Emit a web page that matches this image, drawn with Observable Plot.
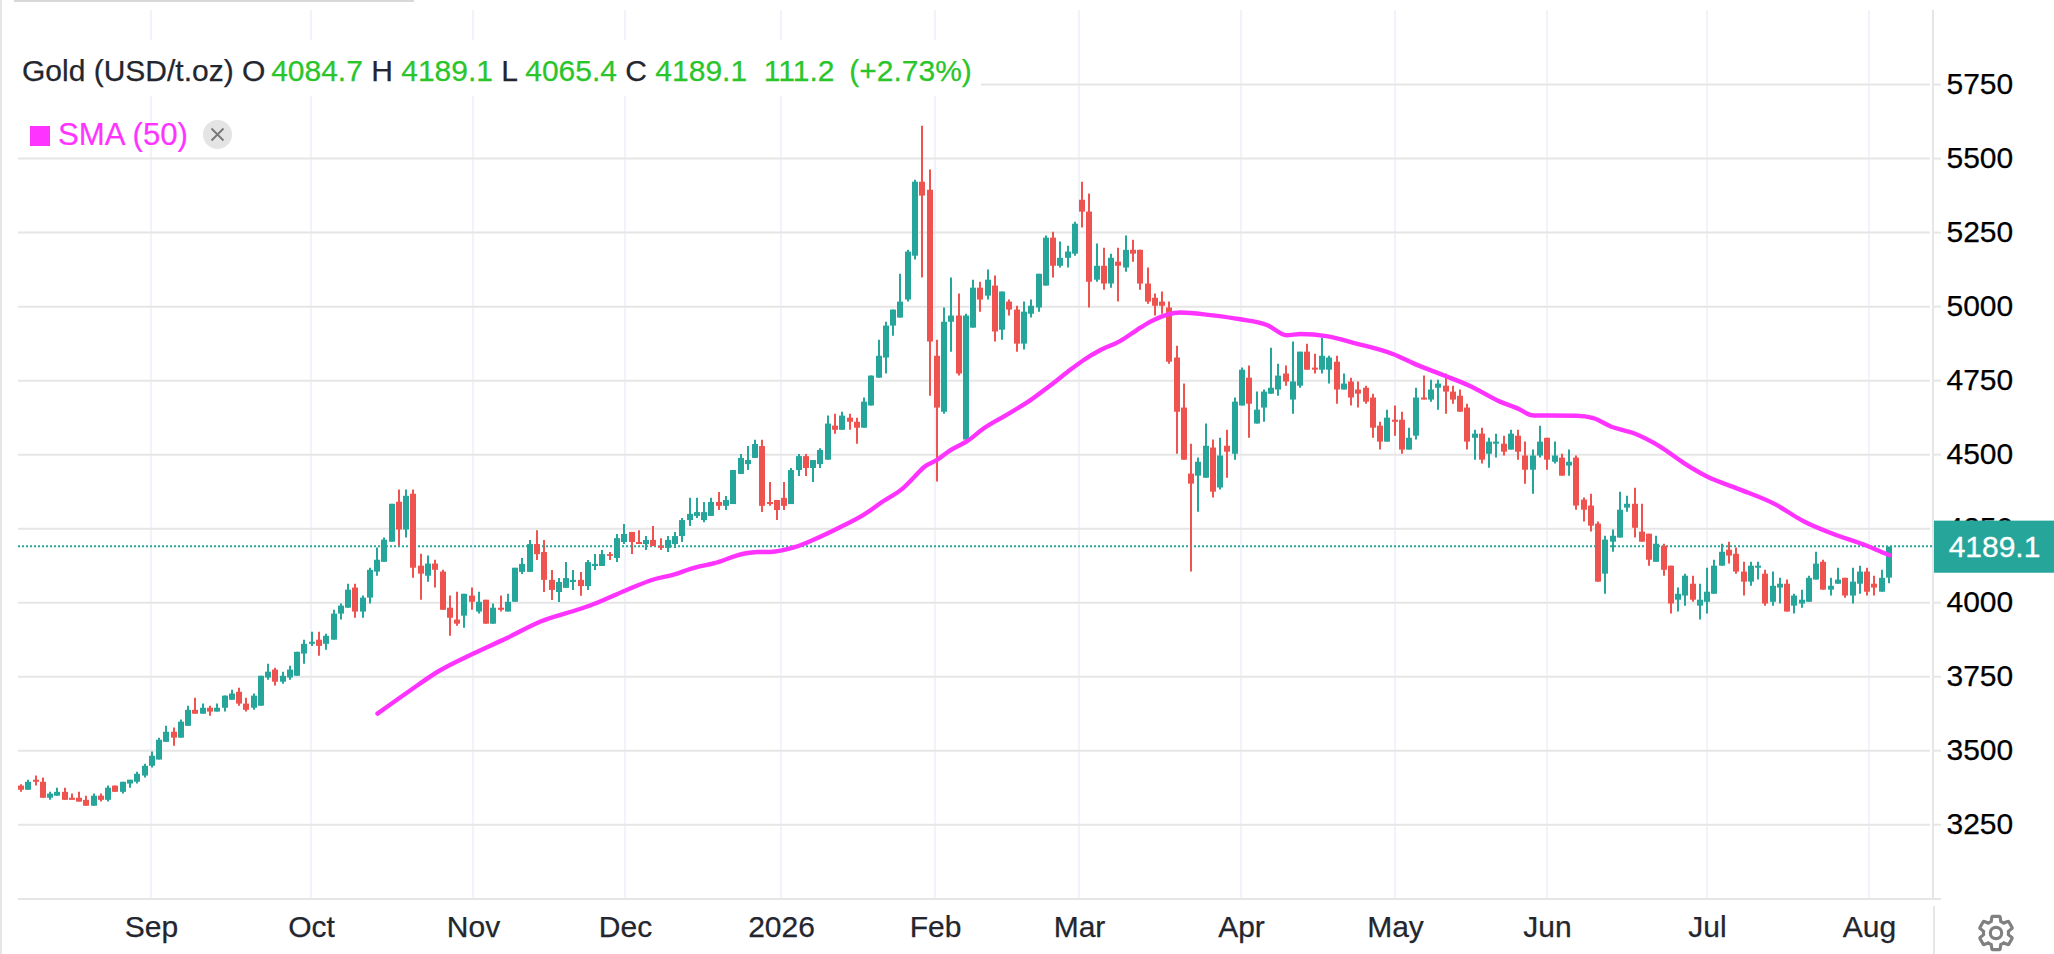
<!DOCTYPE html>
<html><head><meta charset="utf-8">
<script src="https://cdn.jsdelivr.net/npm/d3@7"></script>
<script src="https://cdn.jsdelivr.net/npm/@observablehq/plot@0.6"></script>
<style>
html,body{margin:0;padding:0;background:#fff;overflow:hidden}
#wrap{position:relative;width:2054px;height:954px;font-family:"Liberation Sans",Arial,sans-serif}
#head{position:absolute;left:18px;top:40px;width:963px;height:56px;background:#fff;font-size:30px;line-height:62px;color:#23262e;white-space:pre;box-sizing:border-box;padding-left:4px;-webkit-text-stroke:.25px}
#head b{font-weight:400;color:#2ac52a}
#head b.first{margin-left:-2.6px}
#head b.pct{margin-left:6.5px}
#sma{position:absolute;left:30px;top:116px;height:40px;line-height:38px;font-size:31.2px;color:#ff33ff;white-space:pre;-webkit-text-stroke:.2px}
#sma i{display:inline-block;width:20px;height:20px;background:#ff33ff;margin-right:8px;vertical-align:-1px;-webkit-text-stroke:0}
#x{position:absolute;left:203px;top:120px;width:29px;height:29px;border-radius:50%;background:#e4e4e4}
#gear{position:absolute;left:1976px;top:913px;width:40px;height:40px}
#bar{position:absolute;left:14px;top:0;width:400px;height:2px;background:#d8d8d8}
#edge{position:absolute;left:0;top:0;width:2px;height:954px;background:#e6e6ea}
#vsep{position:absolute;left:1933px;top:906px;width:2px;height:48px;background:#e6e6e6}
</style></head><body>
<div id="wrap">
<div id="chart"></div>
<div id="bar"></div><div id="edge"></div><div id="vsep"></div>
<div id="head">Gold (USD/t.oz) O <b class="first">4084.7</b> H <b>4189.1</b> L <b>4065.4</b> C <b>4189.1</b>  <b>111.2</b><b class="pct"> (+2.73%)</b></div>
<div id="sma"><i></i>SMA (50)</div>
<div id="x"><svg width="29" height="29" viewBox="0 0 29 29"><path d="M8.5 8.5L20.5 20.5M20.5 8.5L8.5 20.5" stroke="#777" stroke-width="1.8" fill="none"/></svg></div>
<svg id="gear" viewBox="0 0 24 24"><path fill="none" stroke="#808080" stroke-width="1.9" d="M19.43 12.98c.04-.32.07-.64.07-.98s-.03-.66-.07-.98l2.11-1.65c.19-.15.24-.42.12-.64l-2-3.46c-.12-.22-.39-.3-.61-.22l-2.49 1c-.52-.4-1.08-.73-1.69-.98l-.38-2.65C14.46 2.18 14.25 2 14 2h-4c-.25 0-.46.18-.49.42l-.38 2.65c-.61.25-1.17.59-1.69.98l-2.49-1c-.23-.09-.49 0-.61.22l-2 3.46c-.13.22-.07.49.12.64l2.11 1.65c-.04.32-.07.65-.07.98s.03.66.07.98l-2.11 1.65c-.19.15-.24.42-.12.64l2 3.46c.12.22.39.3.61.22l2.49-1c.52.4 1.08.73 1.69.98l.38 2.65c.03.24.24.42.49.42h4c.25 0 .46-.18.49-.42l.38-2.65c.61-.25 1.17-.59 1.69-.98l2.49 1c.23.09.49 0 .61-.22l2-3.46c.12-.22.07-.49-.12-.64l-2.11-1.65z"/><circle cx="12" cy="12" r="3.4" fill="none" stroke="#808080" stroke-width="1.9"/></svg>
</div>
<script>
const opens = [3382,3368,3402,3395,3341,3348,3361,3341,3341,3334,
3314,3348,3334,3382,3361,3389,3395,3416,3449,3470,
3530,3564,3544,3584,3638,3625,3645,3632,3645,3672,
3699,3659,3645,3652,3747,3774,3733,3747,3753,3828,
3861,3875,3861,3875,3963,3983,4051,3970,4017,4105,
4138,4206,4341,4247,4368,4125,4091,4132,4105,3983,
3943,3956,4024,3970,4010,3929,3983,3970,4003,4104,
4104,4198,4171,4077,4036,4050,4070,4077,4056,4124,
4124,4164,4151,4205,4239,4205,4198,4212,4191,4185,
4198,4225,4279,4293,4279,4293,4340,4327,4333,4435,
4468,4489,4529,4340,4347,4354,4333,4448,4495,4455,
4468,4483,4598,4584,4625,4611,4591,4666,4760,4828,
4936,4963,5024,5172,5422,5395,4834,4645,4949,4970,
4551,4929,5064,5037,5071,4922,5017,4990,4875,4976,
4997,5071,5233,5138,5165,5179,5361,5321,5091,5138,
5078,5152,5132,5192,5192,5078,5030,5017,4997,4828,
4659,4436,4429,4422,4524,4389,4530,4503,4666,4760,
4605,4659,4706,4720,4774,4686,4733,4848,4794,4787,
4787,4814,4720,4747,4720,4726,4693,4598,4544,4618,
4618,4517,4564,4693,4686,4726,4733,4713,4699,4659,
4557,4571,4503,4537,4537,4517,4564,4497,4449,4497,
4557,4476,4490,4463,4490,4348,4328,4267,4098,4206,
4220,4321,4334,4240,4233,4138,4192,4125,4010,4024,
4064,3990,4003,4030,4125,4179,4165,4105,4071,4118,
4098,4003,4051,4064,3990,3997,4003,4078,4138,4044,
4064,4084,4024,4064,4105,4064,4037,4084.7];
const highs = [3387,3402,3416,3409,3361,3375,3375,3355,3361,3348,
3355,3355,3382,3382,3395,3402,3429,3456,3497,3544,
3584,3578,3605,3652,3679,3659,3652,3659,3686,3706,
3713,3679,3693,3753,3794,3780,3767,3787,3834,3875,
3902,3902,3895,3976,3997,4064,4064,4024,4118,4186,
4220,4334,4382,4382,4382,4165,4159,4145,4111,4024,
4037,4030,4051,4037,4010,3997,4024,4030,4118,4151,
4212,4245,4212,4110,4083,4137,4110,4104,4144,4164,
4178,4171,4232,4266,4239,4245,4225,4259,4218,4225,
4239,4286,4354,4354,4340,4354,4374,4360,4448,4502,
4529,4550,4550,4408,4347,4408,4455,4502,4502,4482,
4522,4632,4638,4645,4638,4625,4693,4767,4888,4949,
4990,5111,5192,5429,5611,5463,4888,4997,5098,5044,
4976,5091,5084,5125,5105,5051,5024,5003,5017,5024,
5111,5240,5253,5220,5206,5287,5422,5382,5213,5199,
5179,5199,5240,5226,5192,5132,5044,5051,5017,4868,
4740,4537,4490,4605,4551,4557,4584,4693,4794,4801,
4713,4720,4861,4807,4801,4882,4848,4875,4841,4895,
4834,4834,4774,4760,4747,4733,4706,4611,4652,4666,
4645,4591,4726,4767,4753,4753,4774,4733,4720,4672,
4584,4591,4557,4571,4564,4584,4584,4544,4517,4598,
4557,4544,4503,4517,4497,4355,4368,4274,4226,4247,
4375,4361,4388,4334,4233,4226,4199,4125,4051,4098,
4091,4064,4118,4145,4199,4206,4186,4138,4138,4138,
4111,4105,4084,4078,4030,4044,4091,4172,4145,4084,
4118,4084,4118,4125,4118,4091,4111,4189.1];
const lows = [3361,3368,3382,3341,3334,3348,3334,3334,3328,3314,
3314,3328,3328,3361,3355,3375,3389,3409,3443,3470,
3530,3517,3544,3584,3625,3625,3618,3632,3632,3672,
3652,3632,3638,3652,3740,3720,3726,3740,3753,3794,
3854,3821,3841,3875,3943,3983,3949,3949,3997,4091,
4138,4206,4192,4220,4084,4010,4071,4051,3976,3888,
3922,3915,3976,3963,3929,3929,3970,3970,4003,4097,
4104,4144,4036,4009,4002,4050,4043,4023,4043,4110,
4124,4144,4137,4198,4164,4198,4178,4191,4178,4171,
4185,4205,4259,4286,4272,4293,4313,4313,4333,4435,
4448,4489,4306,4327,4279,4313,4333,4428,4428,4408,
4455,4483,4571,4584,4584,4537,4591,4666,4760,4774,
4902,4963,5017,5159,5098,4699,4409,4638,4848,4767,
4551,4929,4983,5024,4882,4888,4970,4848,4855,4963,
4983,5071,5098,5132,5132,5172,5267,4997,5084,5057,
5064,5017,5118,5152,5057,5010,4970,4976,4807,4503,
4483,4105,4307,4422,4355,4382,4422,4483,4666,4557,
4605,4611,4706,4699,4733,4638,4726,4787,4774,4774,
4740,4672,4720,4666,4659,4672,4557,4517,4544,4564,
4503,4517,4551,4686,4679,4652,4638,4672,4645,4517,
4483,4470,4456,4490,4497,4517,4483,4402,4368,4490,
4449,4470,4429,4429,4314,4274,4240,4071,4030,4172,
4220,4307,4220,4206,4125,4138,4091,3963,3970,3990,
4003,3943,3963,4030,4125,4132,4098,4024,4057,4078,
3990,3990,3997,3970,3963,3983,4003,4078,4044,4024,
4064,4017,3997,4030,4024,4024,4037,4065.4];
const closes = [3368,3395,3395,3341,3355,3361,3334,3334,3328,3314,
3348,3334,3375,3361,3395,3402,3422,3449,3483,3537,
3564,3544,3598,3638,3625,3645,3632,3645,3686,3693,
3659,3638,3686,3753,3767,3733,3753,3774,3834,3861,
3868,3854,3888,3963,3990,4044,3970,4017,4111,4145,
4213,4334,4247,4361,4118,4098,4132,4111,3976,3949,
3929,4030,4003,4003,3929,3983,3976,4003,4118,4131,
4198,4164,4077,4043,4070,4083,4077,4056,4137,4131,
4164,4158,4218,4232,4205,4198,4212,4191,4185,4212,
4225,4279,4300,4306,4306,4340,4327,4347,4448,4489,
4482,4536,4327,4333,4313,4327,4448,4495,4455,4482,
4516,4605,4584,4632,4611,4591,4679,4767,4834,4936,
4990,5017,5186,5422,5375,4882,4659,4949,4970,4774,
4970,5064,5024,5091,4916,5051,4990,4875,4983,5003,
5111,5233,5138,5165,5186,5280,5321,5084,5138,5078,
5165,5138,5192,5179,5078,5017,5003,5003,4814,4645,
4483,4402,4476,4530,4375,4497,4510,4679,4787,4672,
4652,4713,4726,4767,4747,4747,4848,4787,4787,4834,
4828,4720,4740,4693,4706,4679,4591,4544,4625,4611,
4517,4557,4693,4686,4720,4740,4713,4686,4645,4544,
4571,4483,4544,4544,4510,4571,4510,4449,4497,4544,
4483,4497,4429,4476,4328,4314,4260,4071,4213,4226,
4314,4334,4253,4206,4145,4199,4111,3997,4030,4091,
4010,4010,4037,4125,4172,4159,4105,4071,4125,4125,
3997,4057,4064,3970,4024,4010,4084,4132,4044,4057,
4078,4024,4071,4105,4037,4051,4084,4189.1];

const smaBar = [49,53.5,57.4,62.2,66.8,71.4,76.9,78.8,83.1,87,89.8,92.1,95.3,99.4,101.2,103,106.3,109,112.7,115.9,118.6,121.2,122.8,124.2,126,127.8,130.1,132.4,135.6,138.8,141.6,143.9,146.2,148.5,151.2,153.5,155.3,157.6,159.5,163.6,167.7,171.4,174.1,176,179.6,183.7,188.8,191.5,195.7,199.3,203.5,205.8,208,210.4,214,216.1,218.7,221.9,225.5,228.7,232,236.1,241.1,245.3,248.5,254,256.6,257];
const smaValue = [3627,3706,3770,3830,3883,3938,3981,3998,4043,4080,4097,4116,4135,4167,4173,4173,4189,4214,4257,4298,4345,4387,4427,4461,4485,4517,4548,4590,4638,4686,4736,4781,4823,4855,4886,4924,4951,4974,4982,4973,4959,4939,4905,4909,4902,4877,4841,4810,4770,4733,4680,4658,4634,4634,4633,4626,4596,4573,4528,4474,4427,4387,4337,4275,4241,4193,4166,4162];

const monthBar = [17.9,39.9,62.2,83.1,104.6,125.8,145.6,167.9,189.1,210,232,254.3];
const monthLabel = ["Sep","Oct","Nov","Dec","2026","Feb","Mar","Apr","May","Jun","Jul","Aug"];
const priceTicks = [3250,3500,3750,4000,4250,4500,4750,5000,5250,5500,5750];
const lastPrice = 4189.1;

const UP="#26a69a", DOWN="#ef5350", GRIDH="#e6e6e6", GRIDV="#f0f3fa";
const XMIN=-0.413, XAXIS=263.07, YMIN=2999;
const candles = opens.map((o,i)=>({i,open:o,high:highs[i],low:lows[i],close:closes[i],color:closes[i]>=o?UP:DOWN}));
const sma = smaBar.map((b,i)=>({b,v:smaValue[i]}));

const chart = Plot.plot({
  width:2054,height:954,marginLeft:18,marginRight:121,marginTop:10,marginBottom:55,
  style:{fontFamily:'"Liberation Sans",Arial,sans-serif',fontSize:"30px",background:"#fff",overflow:"visible"},
  x:{domain:[XMIN,XAXIS],round:true},
  y:{domain:[YMIN,6002]},
  marks:[
    Plot.ruleX(monthBar,{x:d=>d,stroke:GRIDV,strokeWidth:2,dx:-0.5}),
    Plot.ruleY(priceTicks,{y:d=>d,x1:XMIN,x2:262.7,stroke:GRIDH,strokeWidth:2,dy:-0.5}),
    Plot.ruleY(priceTicks,{y:d=>d,x1:XAXIS,x2:264.2,stroke:GRIDH,strokeWidth:2,dy:-0.5}),
    Plot.ruleY([lastPrice],{stroke:UP,strokeWidth:2,strokeDasharray:"2,2",dy:-1}),
    Plot.ruleY([YMIN],{x1:XMIN,x2:264.2,stroke:GRIDH,strokeWidth:2,dy:-0.5}),
    Plot.ruleX([XAXIS],{stroke:GRIDH,strokeWidth:2,dx:-0.5}),
    Plot.axisY({ticks:priceTicks,anchor:"right",tickSize:0,tickPadding:13,dy:-1,label:null,color:"#000",textStroke:"#000",textStrokeWidth:0.25,tickFormat:d=>String(d),fontSize:30}),
    Plot.axisX({ticks:monthBar,anchor:"bottom",tickSize:0,tickPadding:16,label:null,tickFormat:d=>monthLabel[monthBar.indexOf(d)],color:"#23262e",textStroke:"#23262e",textStrokeWidth:0.25,fontSize:30}),
    Plot.ruleX(candles,{x:"i",y1:"low",y2:"high",stroke:"color",strokeWidth:2,dx:-0.5}),
    Plot.ruleX(candles,{x:"i",y1:"open",y2:"close",stroke:"color",strokeWidth:6,dx:-0.5}),
    Plot.line(sma,{x:"b",y:"v",stroke:"#ff33ff",strokeWidth:4.4,curve:"monotone-x"}),
    Plot.rect([lastPrice],{x1:263.2,x2:280,y1:d=>d-88,y2:d=>d+88,fill:UP}),
    Plot.text([lastPrice],{x:271.5,y:d=>d,text:d=>d.toFixed(1),fill:"#fff",stroke:"#fff",strokeWidth:0.3,fontSize:30})
  ]
});
document.getElementById("chart").appendChild(chart);
</script>
</body></html>
